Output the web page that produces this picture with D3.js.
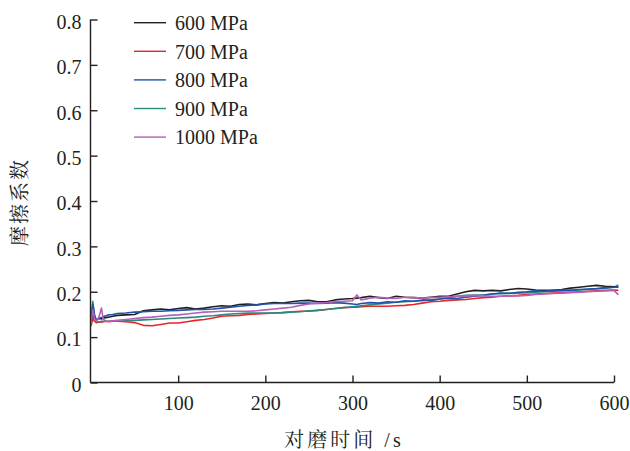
<!DOCTYPE html>
<html><head><meta charset="utf-8">
<script src="https://cdn.jsdelivr.net/npm/d3@7"></script>
<style>
body{margin:0;background:#fff;}
svg{display:block;}
svg text{font-family:"Liberation Serif","Times New Roman",Tinos,"DejaVu Serif",serif;fill:#231f20;}
svg text.cjk{font-family:"Liberation Serif","Times New Roman","Noto Serif CJK SC","Noto Sans CJK SC",serif;}
</style></head><body>
<svg id="c" width="630" height="451"></svg>
<script>
// time (s)
const times = [0,2,4,6,8,10,12,14,17,20,25,30,40,50,60,70,80,90,100,110,120,130,140,150,160,170,180,190,200,210,220,230,240,250,260,270,280,290,300,305,310,320,330,340,350,360,370,380,390,400,410,420,430,440,450,460,470,480,490,500,510,520,530,540,550,560,570,580,590,600,605];
const s600  = [0.135,0.150,0.140,0.138,0.140,0.141,0.140,0.142,0.143,0.144,0.146,0.148,0.149,0.150,0.158,0.160,0.162,0.160,0.163,0.165,0.162,0.164,0.167,0.169,0.168,0.172,0.173,0.171,0.174,0.176,0.175,0.178,0.180,0.181,0.178,0.178,0.182,0.184,0.185,0.186,0.187,0.190,0.187,0.185,0.190,0.188,0.187,0.186,0.188,0.190,0.190,0.195,0.200,0.203,0.202,0.203,0.202,0.205,0.207,0.206,0.204,0.203,0.203,0.205,0.208,0.210,0.212,0.214,0.212,0.211,0.210];
const s700  = [0.125,0.140,0.135,0.132,0.133,0.134,0.133,0.134,0.135,0.134,0.135,0.135,0.134,0.132,0.126,0.125,0.128,0.131,0.131,0.134,0.137,0.139,0.142,0.146,0.147,0.148,0.150,0.151,0.152,0.153,0.154,0.156,0.157,0.157,0.159,0.161,0.163,0.165,0.166,0.166,0.167,0.168,0.168,0.168,0.169,0.170,0.172,0.175,0.178,0.179,0.181,0.182,0.183,0.185,0.187,0.188,0.190,0.191,0.192,0.194,0.195,0.196,0.197,0.198,0.199,0.200,0.201,0.202,0.203,0.204,0.203];
const s800  = [0.140,0.173,0.150,0.138,0.140,0.142,0.143,0.145,0.147,0.149,0.150,0.152,0.153,0.155,0.156,0.157,0.157,0.158,0.159,0.160,0.161,0.161,0.162,0.164,0.166,0.168,0.170,0.171,0.173,0.174,0.174,0.174,0.175,0.175,0.174,0.175,0.176,0.175,0.173,0.172,0.174,0.176,0.175,0.178,0.177,0.180,0.179,0.182,0.181,0.184,0.186,0.185,0.188,0.190,0.192,0.195,0.197,0.196,0.199,0.200,0.202,0.201,0.203,0.204,0.203,0.205,0.206,0.207,0.209,0.210,0.211];
const s900  = [0.130,0.179,0.145,0.135,0.134,0.134,0.135,0.135,0.135,0.135,0.135,0.135,0.136,0.137,0.138,0.139,0.140,0.141,0.142,0.143,0.144,0.146,0.147,0.149,0.151,0.152,0.153,0.153,0.153,0.153,0.154,0.155,0.156,0.158,0.159,0.161,0.163,0.165,0.167,0.168,0.169,0.171,0.173,0.175,0.177,0.178,0.179,0.180,0.182,0.184,0.187,0.190,0.192,0.193,0.193,0.195,0.196,0.197,0.197,0.198,0.199,0.200,0.201,0.202,0.203,0.204,0.205,0.206,0.208,0.210,0.215];
const s1000 = [0.130,0.160,0.140,0.135,0.140,0.150,0.164,0.140,0.135,0.135,0.136,0.137,0.139,0.141,0.143,0.144,0.146,0.148,0.149,0.151,0.153,0.155,0.156,0.157,0.157,0.157,0.157,0.158,0.160,0.162,0.164,0.166,0.170,0.173,0.175,0.176,0.178,0.179,0.180,0.193,0.182,0.186,0.188,0.186,0.185,0.188,0.187,0.186,0.187,0.188,0.189,0.190,0.191,0.192,0.191,0.190,0.190,0.191,0.191,0.192,0.194,0.195,0.196,0.197,0.198,0.199,0.200,0.201,0.202,0.203,0.193];

const seriesNames = ["600 MPa","700 MPa","800 MPa","900 MPa","1000 MPa"];
const seriesValues = [s600,s700,s800,s900,s1000];
const seriesColors = ["#231f20","#e8262a","#2052a8","#2a8a80","#b560b8"];
const drawOrder = [1,3,0,2,4];

const xTicks = [100,200,300,400,500,600];
const yTicks = [0,0.1,0.2,0.3,0.4,0.5,0.6,0.7,0.8];

const svg = d3.select("#c");
const x = d3.scaleLinear().domain([0,600]).range([91,614]);
const y = d3.scaleLinear().domain([0,0.8]).range([382.5,19.5]);

const line = d3.line().x((d,i)=>x(times[i])).y(d=>y(d));

drawOrder.forEach(k=>{
  svg.append("path").datum(seriesValues[k])
    .attr("d",line).attr("fill","none")
    .attr("stroke",seriesColors[k]).attr("stroke-width",1.6)
    .attr("stroke-linejoin","round");
});

const ax = "#231f20";
const gx = svg.append("g").attr("transform",`translate(0,${y(0)})`)
  .call(d3.axisBottom(x).tickValues(xTicks).tickSizeInner(-7).tickSizeOuter(0).tickPadding(0).tickFormat(d3.format("d")));
gx.attr("font-family",null).attr("font-size",null);
gx.select(".domain").attr("stroke",ax).attr("stroke-width",1.4).attr("d",`M${x(0)-0.5},0H${x(600)}`);
gx.selectAll(".tick line").attr("stroke",ax).attr("stroke-width",1.4);
gx.selectAll(".tick text").attr("y",27).attr("dy",0).style("font-size","20px").attr("fill",ax);

const gy = svg.append("g").attr("transform",`translate(${x(0)-0.5},0)`)
  .call(d3.axisLeft(y).tickValues(yTicks).tickSizeInner(-7).tickSizeOuter(0).tickPadding(9).tickFormat(d=>d===0?"0":d3.format(".1f")(d)));
gy.attr("font-family",null).attr("font-size",null);
gy.select(".domain").attr("stroke",ax).attr("stroke-width",1.4).attr("d",`M0,${y(0.8)}V${y(0)}`);
gy.selectAll(".tick line").attr("stroke",ax).attr("stroke-width",1.4);
gy.selectAll(".tick text").attr("dy","0.44em").style("font-size","20px").attr("fill",ax);

// legend
const lg = svg.append("g");
seriesNames.forEach((n,i)=>{
  const ly = 22.7 + i*28.6;
  lg.append("line").attr("x1",134).attr("x2",166).attr("y1",ly).attr("y2",ly)
    .attr("stroke",seriesColors[i]).attr("stroke-width",1.4);
  lg.append("text").attr("x",175).attr("y",ly+7.3).style("font-size","20px").text(n);
});

// axis titles
svg.append("text").attr("class","cjk").attr("x",344).attr("y",447).attr("text-anchor","middle")
  .style("font-size","20px").style("letter-spacing","3px").text("对磨时间 /s");
svg.append("text").attr("class","cjk").attr("transform","translate(27,202) rotate(-90)").attr("text-anchor","middle")
  .style("font-size","20px").style("letter-spacing","2px").text("摩擦系数");
</script>
</body></html>
